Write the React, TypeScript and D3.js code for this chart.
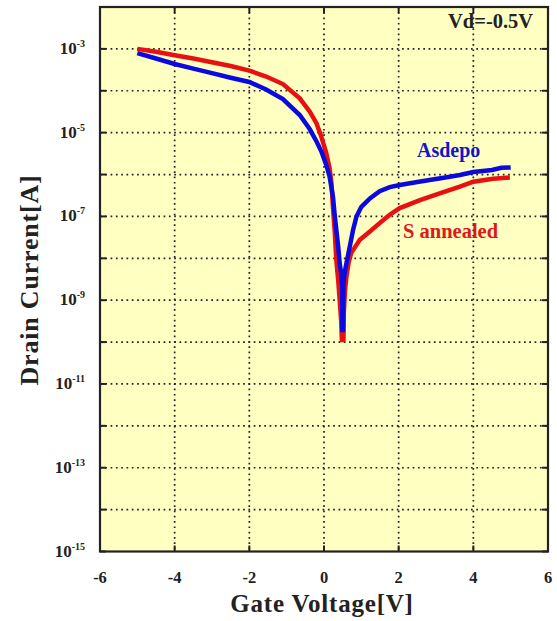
import React from "react";
import * as d3 from "d3";

// Gate voltage (V) and log10 of drain current (A)
const asdepoV = [-5, -4.5, -4, -3.5, -3, -2.5, -2, -1.55, -1.1, -0.65, -0.38, -0.2, -0.07, 0.06, 0.15, 0.24, 0.29, 0.33, 0.38, 0.42, 0.46, 0.49, 0.49, 0.51, 0.52, 0.55, 0.6, 0.69, 0.78, 0.87, 1.0, 1.23, 1.49, 1.76, 2.03, 2.5, 2.83, 3.25, 3.64, 4.0, 4.5, 4.75, 5.0];
const asdepoLogI = [-3.1, -3.23, -3.36, -3.47, -3.58, -3.69, -3.79, -3.97, -4.2, -4.58, -4.92, -5.21, -5.45, -5.77, -6.05, -6.53, -7.0, -7.32, -7.72, -8.12, -8.36, -8.67, -9.71, -9.71, -8.6, -8.36, -8.12, -7.72, -7.32, -7.0, -6.77, -6.57, -6.4, -6.3, -6.25, -6.18, -6.13, -6.07, -6.01, -5.94, -5.89, -5.84, -5.83];

const annealedV = [-5, -4.5, -4, -3.5, -3, -2.5, -2, -1.55, -1.1, -0.65, -0.38, -0.2, -0.07, 0.06, 0.15, 0.2, 0.24, 0.29, 0.33, 0.38, 0.42, 0.46, 0.48, 0.52, 0.53, 0.56, 0.6, 0.66, 0.73, 0.96, 1.23, 1.49, 1.76, 2.03, 2.57, 3.1, 3.64, 4.0, 4.53, 4.98];
const annealedLogI = [-3.0, -3.07, -3.15, -3.23, -3.32, -3.41, -3.52, -3.66, -3.84, -4.18, -4.5, -4.78, -5.1, -5.49, -5.85, -6.21, -6.77, -7.4, -8.04, -8.52, -8.99, -9.5, -9.95, -9.95, -9.3, -8.8, -8.44, -8.1, -7.87, -7.56, -7.36, -7.16, -6.96, -6.8, -6.61, -6.45, -6.29, -6.17, -6.1, -6.07];

const xTicks = [-6, -4, -2, 0, 2, 4, 6];
const yGridExps = [-2, -3, -4, -5, -6, -7, -8, -9, -10, -11, -12, -13, -14, -15];
const yLabelExps = [-3, -5, -7, -9, -11, -13, -15];

const W = 557;
const H = 621;
const L = 100;
const R = 548;
const T = 7;
const B = 551.5;
const FONT = "'Liberation Serif', 'Times New Roman', serif";

export default function App() {
  const x = d3.scaleLinear().domain([-6, 6]).range([L, R]);
  const y = d3.scaleLinear().domain([-2, -15]).range([T, B]);

  const line = d3
    .line<[number, number]>()
    .x((d) => x(d[0]))
    .y((d) => y(d[1]));

  const asdepo = asdepoV.map((v, i) => [v, asdepoLogI[i]] as [number, number]);
  const annealed = annealedV.map((v, i) => [v, annealedLogI[i]] as [number, number]);

  const tick = 6;

  return (
    <svg
      width={W}
      height={H}
      style={{ position: "absolute", left: 0, top: 0, display: "block", background: "#fff" }}
    >
      <rect x={L} y={T} width={R - L} height={B - T} fill="#FFFFC2" />
      {/* grid */}
      {yGridExps.slice(1, -1).map((e) => (
        <line key={"gy" + e} x1={L} x2={R} y1={y(e)} y2={y(e)} stroke="#222" strokeWidth={1.7} strokeDasharray="1.7,3.6" />
      ))}
      {xTicks.slice(1, -1).map((v) => (
        <line key={"gx" + v} x1={x(v)} x2={x(v)} y1={T} y2={B} stroke="#222" strokeWidth={1.7} strokeDasharray="1.7,3.6" />
      ))}
      {/* ticks */}
      {yGridExps.map((e) => (
        <g key={"ty" + e}>
          <line x1={L} x2={L + tick} y1={y(e)} y2={y(e)} stroke="#222" strokeWidth={2} />
          <line x1={R - tick} x2={R} y1={y(e)} y2={y(e)} stroke="#222" strokeWidth={2} />
        </g>
      ))}
      {xTicks.map((v) => (
        <g key={"tx" + v}>
          <line x1={x(v)} x2={x(v)} y1={B - tick} y2={B} stroke="#222" strokeWidth={2} />
          <line x1={x(v)} x2={x(v)} y1={T} y2={T + tick} stroke="#222" strokeWidth={2} />
        </g>
      ))}
      {/* curves */}
      <path d={line(annealed) || ""} fill="none" stroke="#E81010" strokeWidth={4.5} strokeLinejoin="miter" />
      <path d={line(asdepo) || ""} fill="none" stroke="#0A0AE0" strokeWidth={4.5} strokeLinejoin="miter" />
      {/* frame */}
      <rect x={L} y={T} width={R - L} height={B - T} fill="none" stroke="#222" strokeWidth={2.2} />
      {/* y labels */}
      {yLabelExps.map((e) => (
        <text key={"yl" + e} x={85} y={y(e) + 5} textAnchor="end" fontFamily={FONT} fontWeight="bold" fontSize={17} fill="#222">
          10
          <tspan fontSize={10} dy={-7}>{e}</tspan>
        </text>
      ))}
      {/* x labels */}
      {xTicks.map((v) => (
        <text key={"xl" + v} x={x(v)} y={583} textAnchor="middle" fontFamily={FONT} fontWeight="bold" fontSize={16.5} fill="#222">
          {v}
        </text>
      ))}
      <text x={322} y={612} textAnchor="middle" fontFamily={FONT} fontWeight="bold" fontSize={25} letterSpacing={0.8} fill="#222">
        Gate Voltage[V]
      </text>
      <text
        transform={`translate(38,280) rotate(-90)`}
        textAnchor="middle"
        fontFamily={FONT}
        fontWeight="bold"
        fontSize={26}
        letterSpacing={0.8}
        fill="#222"
      >
        Drain Current[A]
      </text>
      <text x={448} y={28} fontFamily={FONT} fontWeight="bold" fontSize={20.5} fill="#222">
        Vd=-0.5V
      </text>
      <text x={417} y={157} fontFamily={FONT} fontWeight="bold" fontSize={20} fill="#1515C8">
        Asdepo
      </text>
      <text x={403} y={238} fontFamily={FONT} fontWeight="bold" fontSize={20.5} fill="#E01818">
        S annealed
      </text>
    </svg>
  );
}
